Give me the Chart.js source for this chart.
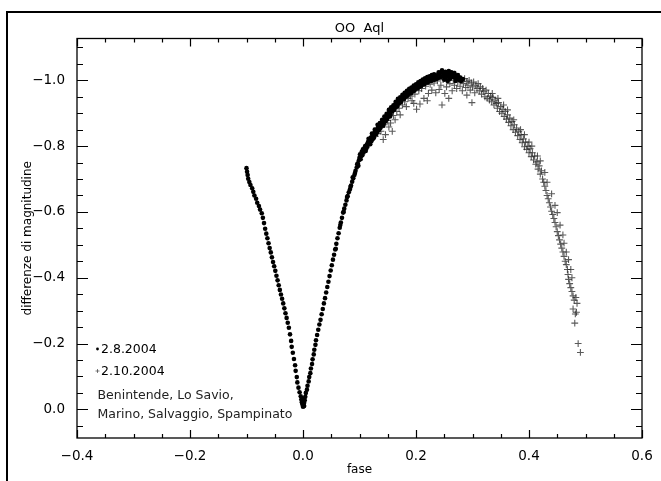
<!DOCTYPE html>
<html>
<head>
<meta charset="utf-8">
<script src="https://cdn.jsdelivr.net/npm/chart.js@4.4.1/dist/chart.umd.min.js"></script>
<style>
body { margin: 0; background: #fff; }
canvas { display: block; }
</style>
</head>
<body>
<canvas id="lc" width="661" height="481"></canvas>
<script>
// OO Aql light curve, [phase, magnitude difference]
// night of 2.8.2004 (filled dots)
const dotsDescending = [
	[-0.100,-0.733],[-0.099,-0.722],[-0.098,-0.712],[-0.097,-0.701],[-0.095,-0.691],[-0.093,-0.682],
	[-0.090,-0.672],[-0.088,-0.661],[-0.086,-0.650],[-0.083,-0.640],[-0.081,-0.628],[-0.078,-0.618],
	[-0.076,-0.607],[-0.073,-0.596],[-0.071,-0.582],[-0.069,-0.566],[-0.067,-0.549],[-0.065,-0.534],
	[-0.063,-0.520],[-0.061,-0.505],[-0.059,-0.490],[-0.057,-0.477],[-0.055,-0.462],[-0.053,-0.448],
	[-0.051,-0.435],[-0.049,-0.421],[-0.047,-0.406],[-0.045,-0.392],[-0.043,-0.377],[-0.041,-0.363],
	[-0.039,-0.349],[-0.037,-0.336],[-0.035,-0.322],[-0.033,-0.307],[-0.031,-0.292],[-0.029,-0.278],
	[-0.027,-0.263],[-0.025,-0.248],[-0.023,-0.228],[-0.021,-0.208],[-0.020,-0.190],[-0.018,-0.172],
	[-0.016,-0.153],[-0.014,-0.134],[-0.013,-0.117],[-0.011,-0.098],[-0.010,-0.082],[-0.008,-0.066],
	[-0.006,-0.052],[-0.004,-0.040],[-0.003,-0.030]
]
const dotsMinimum = [
	[-0.002,-0.022],[-0.001,-0.015],[0.000,-0.025],[0.001,-0.012],[0.002,-0.020],
	[0.000,-0.008],[0.003,-0.028],[-0.001,-0.032],[0.002,-0.010],[0.001,-0.030]
]
const dotsRising = [
	[0.004,-0.038],[0.005,-0.050],[0.007,-0.060],[0.008,-0.072],[0.010,-0.085],[0.011,-0.098],
	[0.013,-0.110],[0.014,-0.124],[0.016,-0.138],[0.017,-0.152],[0.019,-0.167],[0.020,-0.181],
	[0.022,-0.196],[0.023,-0.210],[0.025,-0.226],[0.027,-0.242],[0.029,-0.258],[0.031,-0.272],
	[0.033,-0.289],[0.035,-0.305],[0.037,-0.322],[0.039,-0.338],[0.041,-0.355],[0.043,-0.372],
	[0.045,-0.388],[0.047,-0.405],[0.049,-0.422],[0.051,-0.438],[0.053,-0.455],[0.055,-0.470],
	[0.057,-0.486],[0.059,-0.503],[0.061,-0.520],[0.063,-0.535],[0.065,-0.552],[0.067,-0.568],
	[0.069,-0.582],[0.071,-0.598],[0.073,-0.610],[0.075,-0.622],[0.077,-0.635],[0.079,-0.648],
	[0.081,-0.660],[0.083,-0.668],[0.085,-0.680],[0.087,-0.692],[0.089,-0.702],[0.091,-0.712],
	[0.093,-0.725],[0.095,-0.735],[0.097,-0.748],[0.099,-0.757],
	[0.058,-0.488],[0.066,-0.560],[0.072,-0.600],[0.078,-0.645],[0.084,-0.676],[0.088,-0.705],
	[0.092,-0.718],[0.096,-0.745],[0.098,-0.740]
]
const dotsMaximum = [
	[0.100,-0.765],[0.101,-0.775],[0.103,-0.770],[0.104,-0.783],[0.106,-0.790],[0.107,-0.780],
	[0.109,-0.795],[0.110,-0.800],[0.112,-0.792],[0.113,-0.805],[0.115,-0.812],[0.117,-0.808],
	[0.118,-0.820],[0.120,-0.826],[0.121,-0.815],[0.123,-0.832],[0.125,-0.838],[0.126,-0.828],
	[0.128,-0.845],[0.130,-0.850],[0.131,-0.842],[0.133,-0.858],[0.135,-0.862],[0.137,-0.855],
	[0.139,-0.870],[0.141,-0.876],[0.143,-0.868],[0.145,-0.884],[0.147,-0.890],[0.149,-0.882],
	[0.151,-0.898],[0.153,-0.904],[0.155,-0.896],[0.157,-0.912],[0.159,-0.918],[0.161,-0.910],
	[0.163,-0.926],[0.165,-0.930],[0.167,-0.922],[0.169,-0.936],[0.171,-0.941],[0.173,-0.933],
	[0.175,-0.947],[0.177,-0.950],[0.179,-0.943],[0.181,-0.956],[0.183,-0.960],[0.185,-0.953],
	[0.187,-0.965],[0.189,-0.968],[0.191,-0.960],[0.193,-0.972],[0.195,-0.976],[0.197,-0.968],
	[0.199,-0.980],[0.201,-0.983],[0.203,-0.975],[0.205,-0.986],[0.207,-0.990],[0.209,-0.982],
	[0.211,-0.993],[0.213,-0.996],[0.215,-0.988],[0.217,-0.998],[0.219,-1.001],[0.221,-0.993],
	[0.223,-1.003],[0.225,-1.006],[0.227,-0.998],[0.229,-1.008],[0.231,-1.010],[0.233,-1.002],
	[0.235,-1.012],[0.237,-1.015],[0.239,-1.006],[0.241,-1.018],[0.243,-1.022],[0.245,-1.026],
	[0.247,-1.012],[0.249,-1.020],[0.251,-1.016],[0.253,-1.008],[0.255,-1.018],[0.257,-1.022],
	[0.259,-1.012],[0.261,-1.020],[0.263,-1.024],[0.265,-1.010],[0.267,-1.017],[0.269,-1.008],
	[0.271,-1.013],[0.273,-1.004],[0.275,-1.010],[0.277,-1.000]
]
const dotsMaximumScatter = [
	[0.102,-0.760],[0.105,-0.772],[0.108,-0.788],[0.111,-0.785],[0.114,-0.798],[0.116,-0.822],
	[0.119,-0.806],[0.122,-0.838],[0.124,-0.822],[0.127,-0.850],[0.129,-0.836],[0.132,-0.865],
	[0.134,-0.848],[0.136,-0.870],[0.138,-0.862],[0.140,-0.880],[0.142,-0.862],[0.144,-0.890],
	[0.146,-0.875],[0.148,-0.898],[0.150,-0.888],[0.152,-0.910],[0.154,-0.890],[0.156,-0.918],
	[0.158,-0.905],[0.160,-0.924],[0.162,-0.915],[0.164,-0.935],[0.166,-0.920],[0.168,-0.944],
	[0.170,-0.930],[0.172,-0.948],[0.174,-0.938],[0.176,-0.956],[0.178,-0.945],[0.180,-0.962],
	[0.182,-0.950],[0.184,-0.968],[0.186,-0.958],[0.188,-0.974],[0.190,-0.962],[0.192,-0.978],
	[0.194,-0.966],[0.196,-0.984],[0.198,-0.972],[0.200,-0.988],[0.202,-0.978],[0.204,-0.994],
	[0.206,-0.980],[0.208,-0.998],[0.210,-0.986],[0.212,-1.002],[0.214,-0.990],[0.216,-1.006],
	[0.218,-0.994],[0.220,-1.010],[0.222,-0.998],[0.224,-1.012],[0.226,-1.000],[0.228,-1.016],
	[0.230,-1.002],[0.232,-1.018],[0.236,-1.004],[0.240,-1.024],[0.244,-1.010],[0.246,-1.030],
	[0.250,-1.002],[0.252,-1.026],[0.256,-0.998],[0.258,-1.028],[0.260,-1.004],[0.264,-1.016],
	[0.268,-1.022],[0.270,-0.998],[0.274,-1.016],[0.278,-1.008],[0.280,-0.998],[0.283,-1.004]
]
// night of 2.10.2004 (crosses)
const crossesRising = [
	[0.128,-0.830],[0.132,-0.838],[0.136,-0.855],[0.138,-0.845],[0.142,-0.820],[0.144,-0.865],
	[0.146,-0.835],[0.150,-0.878],[0.152,-0.858],[0.155,-0.870],[0.158,-0.845],[0.160,-0.893],
	[0.163,-0.880],[0.166,-0.905],[0.170,-0.915],[0.172,-0.895],[0.176,-0.925],[0.180,-0.935],
	[0.183,-0.920],[0.186,-0.945],[0.190,-0.952],[0.193,-0.938],[0.196,-0.930],[0.198,-0.958],
	[0.201,-0.912],[0.205,-0.968],[0.207,-0.928],[0.210,-0.975],[0.214,-0.945],[0.217,-0.982],
	[0.220,-0.938],[0.222,-0.960],[0.225,-0.988],[0.228,-0.970],[0.232,-0.992],[0.235,-0.962],
	[0.238,-0.998],[0.241,-0.972],[0.244,-0.985],[0.246,-0.925],[0.248,-1.002],[0.251,-0.960],
	[0.254,-0.980],[0.256,-1.005],[0.258,-0.945],[0.260,-0.990],[0.262,-1.012],[0.264,-0.968]
]
const crossesMaximum = [
	[0.266,-1.000],[0.268,-0.985],[0.269,-1.019],[0.270,-1.008],[0.272,-0.975],[0.274,-0.995],
	[0.276,-1.012],[0.278,-0.982],[0.280,-1.002],[0.282,-0.968],[0.284,-0.990],[0.286,-1.005],
	[0.288,-0.978],[0.290,-0.996],[0.290,-0.955],[0.292,-0.985],[0.294,-1.000],[0.296,-0.970],
	[0.298,-0.992],[0.299,-0.932],[0.300,-0.980],[0.302,-0.995],[0.304,-0.962],[0.306,-0.985],
	[0.308,-0.975],[0.310,-0.990],[0.312,-0.968],[0.314,-0.980],[0.316,-0.958],[0.318,-0.975],
	[0.320,-0.965],[0.322,-0.950],[0.324,-0.970],[0.326,-0.945]
]
const crossesDescending = [
	[0.328,-0.960],[0.330,-0.940],[0.332,-0.952],[0.334,-0.935],[0.335,-0.960],[0.336,-0.948],
	[0.338,-0.925],[0.340,-0.940],[0.342,-0.930],[0.344,-0.915],[0.345,-0.945],[0.346,-0.932],
	[0.348,-0.905],[0.350,-0.920],[0.352,-0.900],[0.354,-0.912],[0.355,-0.925],[0.356,-0.890],
	[0.358,-0.905],[0.360,-0.882],[0.362,-0.895],[0.362,-0.910],[0.364,-0.872],[0.366,-0.885],
	[0.368,-0.862],[0.370,-0.875],[0.372,-0.850],[0.373,-0.880],[0.374,-0.865],[0.376,-0.842],
	[0.378,-0.855],[0.380,-0.832],[0.382,-0.845],[0.384,-0.820],[0.385,-0.850],[0.386,-0.835],
	[0.388,-0.810],[0.390,-0.822],[0.392,-0.798],[0.392,-0.835],[0.394,-0.812],[0.396,-0.790],
	[0.398,-0.800],[0.400,-0.780],[0.400,-0.812],[0.402,-0.792],[0.404,-0.768],[0.405,-0.800],
	[0.406,-0.780],[0.408,-0.758],[0.410,-0.770],[0.412,-0.745],[0.414,-0.752],[0.415,-0.770],
	[0.416,-0.730],[0.418,-0.740],[0.420,-0.715],[0.420,-0.755],[0.422,-0.725],[0.424,-0.700],
	[0.426,-0.690],[0.428,-0.678],[0.428,-0.720],[0.430,-0.665],[0.432,-0.650],[0.432,-0.690],
	[0.434,-0.640],[0.436,-0.628],[0.438,-0.615],[0.440,-0.602],[0.440,-0.655],[0.442,-0.592],
	[0.444,-0.580],[0.446,-0.568],[0.446,-0.620],[0.448,-0.555],[0.450,-0.540],[0.450,-0.598],
	[0.452,-0.528],[0.454,-0.515],[0.455,-0.560],[0.456,-0.502],[0.458,-0.490],[0.460,-0.478],
	[0.460,-0.530],[0.462,-0.465],[0.462,-0.505],[0.464,-0.450],[0.466,-0.440],[0.466,-0.478],
	[0.468,-0.425],[0.469,-0.410],[0.470,-0.395],[0.470,-0.455],[0.472,-0.382],[0.474,-0.370],
	[0.474,-0.425],[0.476,-0.358],[0.476,-0.400],[0.478,-0.345],[0.480,-0.332],[0.483,-0.340],
	[0.485,-0.322],[0.478,-0.305],[0.482,-0.290],[0.484,-0.295],[0.481,-0.262],[0.487,-0.200],
	[0.491,-0.173]
]
const xRange = [-0.4, 0.6]
const yRange = [-1.127, 0.087]
const tickStep = 0.05
const labelStep = 0.2

const toPoints = (...sets) => [].concat(...sets).map(p => ({x: p[0], y: p[1]}))
const onStep = (v, s) => Math.abs(v / s - Math.round(v / s)) < 1e-6
const fmt = v => {
	if (Math.abs(v) < 1e-9) return '0.0'
	return (v < 0 ? '\u2212' : '') + Math.abs(v).toFixed(1)
}
const font = '"DejaVu Sans", Verdana, sans-serif'

// tick values every 0.05 inside a range
function stepValues(lo, hi) {
	let out = []
	for (let k = Math.ceil(lo / tickStep - 1e-6); k * tickStep <= hi + 1e-9; k++)
		out.push(Math.round(k * tickStep * 1000) / 1000)
	return out
}

// box, inward ticks, title, page frame and the small key in the corner
const idlFrame = {
	id: 'idlFrame',
	afterDraw(chart) {
		const ctx = chart.ctx
		const a = chart.chartArea
		const x = chart.scales.x
		const y = chart.scales.y
		ctx.save()
		ctx.strokeStyle = '#000'
		ctx.lineWidth = 2
		ctx.beginPath()
		ctx.moveTo(7, 481); ctx.lineTo(7, 12); ctx.lineTo(661, 12)
		ctx.stroke()

		ctx.lineWidth = 1.3
		ctx.strokeRect(a.left, a.top, a.right - a.left, a.bottom - a.top)

		ctx.lineWidth = 1.2
		ctx.beginPath()
		for (const v of stepValues(xRange[0], xRange[1])) {
			const px = Math.round(x.getPixelForValue(v)) + 0.5
			const len = onStep(v, labelStep) ? 8 : 4
			ctx.moveTo(px, a.bottom); ctx.lineTo(px, a.bottom - len)
			ctx.moveTo(px, a.top); ctx.lineTo(px, a.top + len)
		}
		for (const v of stepValues(yRange[0], yRange[1])) {
			const py = Math.round(y.getPixelForValue(v)) + 0.5
			const len = onStep(v, labelStep) ? 11 : 6
			ctx.moveTo(a.left, py); ctx.lineTo(a.left + len, py)
			ctx.moveTo(a.right, py); ctx.lineTo(a.right - len, py)
		}
		ctx.stroke()

		ctx.fillStyle = '#000'
		ctx.font = '13px ' + font
		ctx.textAlign = 'center'
		ctx.textBaseline = 'alphabetic'
		ctx.fillText('OO  Aql', (a.left + a.right) / 2, 32)

		// key
		ctx.textAlign = 'left'
		ctx.font = '12.5px ' + font
		ctx.beginPath()
		ctx.arc(97.5, 349, 1.4, 0, Math.PI * 2)
		ctx.fill()
		ctx.fillText('2.8.2004', 101, 353)
		ctx.strokeStyle = 'rgba(50,50,50,0.8)'
		ctx.lineWidth = 0.8
		ctx.beginPath()
		ctx.moveTo(95.5, 371); ctx.lineTo(99.5, 371)
		ctx.moveTo(97.5, 369); ctx.lineTo(97.5, 373)
		ctx.stroke()
		ctx.fillText('2.10.2004', 101, 375)
		ctx.fillStyle = '#222'
		ctx.fillText('Benintende, Lo Savio,', 97.5, 399)
		ctx.fillText('Marino, Salvaggio, Spampinato', 97.5, 418)
		ctx.restore()
	}
}

Chart.defaults.color = '#000'
Chart.defaults.font.family = font

new Chart(document.getElementById('lc'), {
	type: 'scatter',
	data: {
		datasets: [{
			label: '2.8.2004',
			data: toPoints(dotsDescending, dotsMinimum, dotsRising, dotsMaximum, dotsMaximumScatter),
			pointStyle: 'circle',
			pointRadius: 2.3,
			pointBorderWidth: 0,
			backgroundColor: '#000',
			borderColor: '#000'
		}, {
			label: '2.10.2004',
			data: toPoints(crossesRising, crossesMaximum, crossesDescending),
			pointStyle: 'cross',
			pointRadius: 3.4,
			pointBorderWidth: 1.1,
			borderColor: 'rgba(35,35,35,0.75)',
			backgroundColor: 'rgba(35,35,35,0.75)'
		}]
	},
	options: {
		responsive: false,
		animation: false,
		events: [],
		layout: {padding: {left: 8, right: 19, top: 38.5, bottom: 4}},
		plugins: {
			legend: {display: false},
			tooltip: {enabled: false},
			title: {display: false}
		},
		scales: {
			x: {
				type: 'linear',
				min: xRange[0],
				max: xRange[1],
				grid: {display: false},
				border: {display: false},
				ticks: {
					stepSize: tickStep,
					autoSkip: false,
					maxRotation: 0,
					padding: 2,
					font: {size: 13.5},
					callback: v => onStep(v, labelStep) ? fmt(v) : ''
				},
				title: {display: true, text: 'fase', font: {size: 12}, padding: {top: 0, bottom: 0}},
				afterFit: s => { s.height = 39 }
			},
			y: {
				type: 'linear',
				reverse: true,
				min: yRange[0],
				max: yRange[1],
				grid: {display: false},
				border: {display: false},
				ticks: {
					stepSize: tickStep,
					autoSkip: false,
					padding: 4,
					font: {size: 13.5},
					callback: v => onStep(v, labelStep) ? fmt(v) : ''
				},
				title: {display: true, text: 'differenze di magnitudine', font: {size: 12}, padding: {top: 13, bottom: 0}},
				afterFit: s => { s.width = 69 }
			}
		}
	},
	plugins: [idlFrame]
})
</script>
</body>
</html>
